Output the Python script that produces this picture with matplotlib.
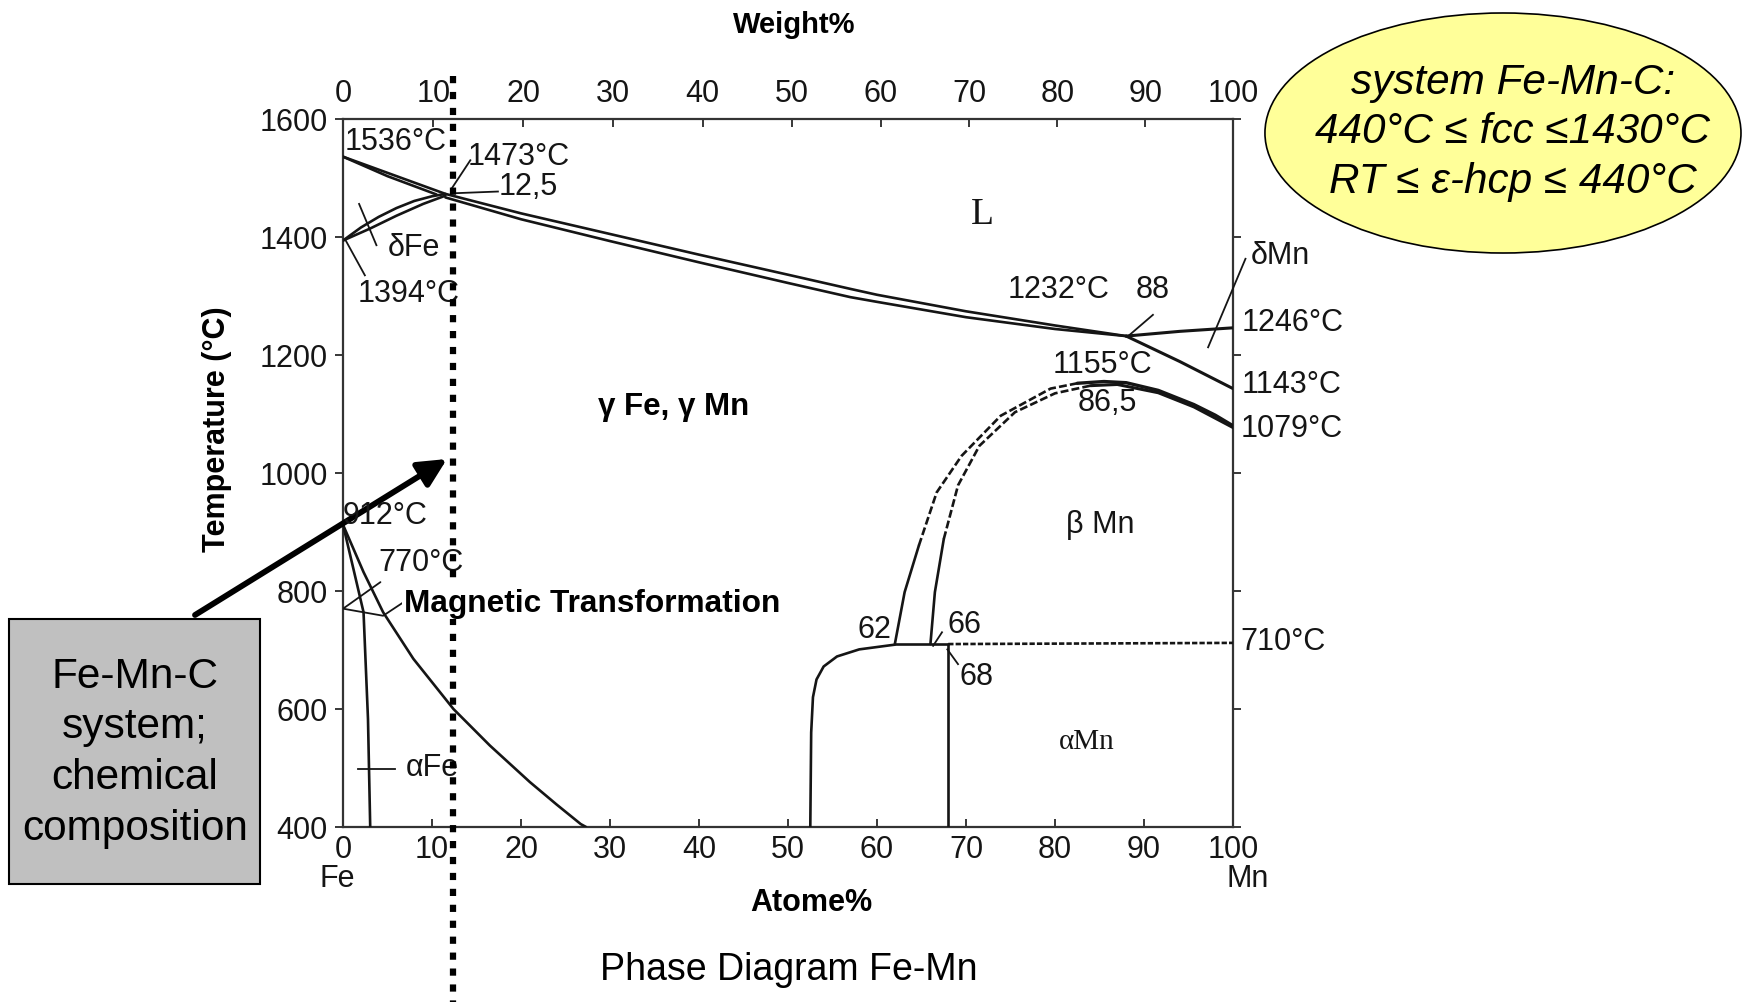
import matplotlib
matplotlib.use("Agg")
import matplotlib.pyplot as plt
from matplotlib.patches import Ellipse, Rectangle
from matplotlib.transforms import blended_transform_factory

plt.rcParams['font.family'] = ['Liberation Sans', 'DejaVu Sans']

# molar masses for the weight-% <-> atom-% scale
M_FE, M_MN = 55.845, 54.938

# ---- phase boundaries (x: atom-% Mn, y: temperature in °C) ----
liquidus_x = [0, 11.5, 20, 30, 40, 50, 57, 60, 70, 80, 88]
liquidus_T = [1536, 1473, 1440, 1405, 1370, 1336, 1312, 1302, 1274, 1250, 1232]
solidus_x = [11.5, 20, 30, 40, 50, 57, 60, 70, 80, 88]
solidus_T = [1467, 1430, 1393, 1357, 1322, 1298, 1290, 1264, 1244, 1232]
delta_solidus_x = [0, 5, 10.5]
delta_solidus_T = [1536, 1503, 1472]
delta_gamma_a_x = [0, 2, 4, 6, 8, 10, 11.5]
delta_gamma_a_T = [1394, 1416, 1434, 1449, 1461, 1469, 1473]
delta_gamma_b_x = [0, 3, 6, 9, 11.5]
delta_gamma_b_T = [1394, 1414, 1436, 1456, 1470]
mn_liquidus_x = [88, 94, 100]
mn_liquidus_T = [1232, 1240, 1246]
mn_delta_x = [88, 94, 100]
mn_delta_T = [1232, 1189, 1143]

beta_outer_low_x = [62, 63.1, 64.7]
beta_outer_low_T = [710, 798, 877]
beta_outer_dash_x = [64.7, 66.7, 69.5, 73.9, 79.5, 82.5]
beta_outer_dash_T = [877, 967, 1029, 1097, 1143, 1152]
beta_outer_top_x = [82.5, 85.5, 88, 91.6, 95.6, 98, 100]
beta_outer_top_T = [1152, 1155, 1153, 1140, 1116, 1098, 1080]
beta_inner_low_x = [66, 66.5, 67.5]
beta_inner_low_T = [710, 798, 888]
beta_inner_dash_x = [67.5, 69.1, 71.5, 75.5, 80, 84]
beta_inner_dash_T = [888, 979, 1046, 1103, 1135, 1148]
beta_inner_top_x = [84, 87, 91.6, 95.6, 100]
beta_inner_top_T = [1148, 1150, 1136, 1112, 1077]

eutectoid_solid_x = [62, 68]
eutectoid_solid_T = [710, 710]
eutectoid_dash_x = [68, 100]
eutectoid_dash_T = [710, 712]
alpha_mn_x = [62, 58, 55.5, 54, 53.2, 52.8, 52.6, 52.5]
alpha_mn_T = [709, 701, 689, 672, 650, 620, 560, 400]
mn68_x = [68, 68]
mn68_T = [710, 400]

gamma_alpha_x = [0, 2.3, 4.5, 7.9, 12.4, 16.5, 21.0, 24, 26.7, 27.3]
gamma_alpha_T = [912, 832, 764, 685, 600, 538, 476, 438, 405, 400]
alpha_fe_x = [0, 1.2, 2.3, 2.8, 3.05]
alpha_fe_T = [912, 835, 764, 583, 400]
magnetic_x = [4.2, 0.0, 4.5, 6.8]
magnetic_T = [815, 770, 758, 781]

steel_mn = 12.4  # Mn content of the steel considered

temp_ticks = [400, 600, 800, 1000, 1200, 1400, 1600]
pct_ticks = [0, 10, 20, 30, 40, 50, 60, 70, 80, 90, 100]

INK = '#151515'
LW = 1.9


def at2wt(a):
    return 100 * a * M_MN / (a * M_MN + (100 - a) * M_FE)


def wt2at(w):
    return 100 * (w / M_MN) / (w / M_MN + (100 - w) / M_FE)


fig = plt.figure(figsize=(17.45, 10.03), dpi=100)
ax = fig.add_axes([0.1966, 0.1745, 0.5100, 0.7059])
ax.set_xlim(0, 100)
ax.set_ylim(400, 1600)


def curve(x, T, ls='-', lw=LW):
    ax.plot(x, T, color=INK, lw=lw, ls=ls, solid_capstyle='round',
            solid_joinstyle='round', zorder=3)


curve(liquidus_x, liquidus_T)
curve(solidus_x, solidus_T)
curve(delta_solidus_x, delta_solidus_T)
curve(delta_gamma_a_x, delta_gamma_a_T)
curve(delta_gamma_b_x, delta_gamma_b_T)
curve(mn_liquidus_x, mn_liquidus_T, lw=2.2)
curve(mn_delta_x, mn_delta_T, lw=2.2)

curve(beta_outer_low_x, beta_outer_low_T)
curve(beta_outer_dash_x, beta_outer_dash_T, ls=(0, (3, 1.2)))
curve(beta_outer_top_x, beta_outer_top_T, lw=2.4)
curve(beta_inner_low_x, beta_inner_low_T)
curve(beta_inner_dash_x, beta_inner_dash_T, ls=(0, (3, 1.2)))
curve(beta_inner_top_x, beta_inner_top_T, lw=2.2)

curve(eutectoid_solid_x, eutectoid_solid_T)
curve(eutectoid_dash_x, eutectoid_dash_T, ls=(0, (2, 0.8)))
curve(alpha_mn_x, alpha_mn_T)
curve(mn68_x, mn68_T)

curve(gamma_alpha_x, gamma_alpha_T)
curve(alpha_fe_x, alpha_fe_T)
curve(magnetic_x, magnetic_T, lw=1.3)

# leader lines of the point labels
leaders = [
    ([14.3, 12.2], [1530, 1482]),      # 1473 °C
    ([12.3, 17.4], [1474, 1477]),      # 12,5
    ([1.8, 3.75], [1456, 1386]),       # delta Fe
    ([0.3, 2.45], [1394, 1335]),       # 1394 °C
    ([91.0, 88.3], [1268, 1233]),      # 88
    ([101.4, 97.2], [1363, 1213]),     # delta Mn
    ([67.3, 66.3], [730, 707]),        # 66
    ([67.9, 69.1], [701, 676]),        # 68
    ([1.7, 5.85], [499, 499]),         # alpha Fe
]
for lx, ly in leaders:
    ax.plot(lx, ly, color=INK, lw=1.3, zorder=3, clip_on=False)


def lab(x, T, s, ha='left', size=22, **kw):
    ax.text(x, T, s, ha=ha, va='center', fontsize=size, color=INK,
            zorder=4, clip_on=False, **kw)


lab(0.2, 1562, '1536°C')
lab(14.0, 1538, '1473°C')
lab(17.5, 1487, '12,5')
lab(5.0, 1383, 'δFe')
lab(1.6, 1305, '1394°C')
lab(0.0, 928, '912°C')
lab(4.0, 849, '770°C')
lab(7.0, 501, 'αFe')
lab(74.7, 1312, '1232°C')
lab(89.1, 1312, '88')
lab(102.0, 1369, 'δMn')
lab(101.0, 1256, '1246°C')
lab(101.0, 1150, '1143°C')
lab(100.8, 1077, '1079°C')
lab(79.7, 1184, '1155°C')
lab(82.5, 1120, '86,5')
lab(85.1, 914, 'β Mn', ha='center')
lab(57.8, 736, '62')
lab(67.9, 744, '66')
lab(69.3, 656, '68')
lab(100.8, 716, '710°C')
lab(83.6, 546, 'αMn', ha='center', size=21, family='Liberation Serif')
lab(71.8, 1439, 'L', ha='center', size=27, family='Liberation Serif')
lab(-0.6, 313, 'Fe', ha='center')
lab(101.6, 313, 'Mn', ha='center')

ax.text(37.1, 1114, 'γ Fe, γ Mn', ha='center', va='center', fontsize=22.5,
        fontweight='bold', color='black', zorder=6)
ax.text(6.8, 780, 'Magnetic Transformation', ha='left', va='center',
        fontsize=22.8, fontweight='bold', color='black', zorder=6,
        bbox=dict(boxstyle='square,pad=0.05', fc='white', ec='none'))

# axes frame and ticks
for sp in ax.spines.values():
    sp.set_linestyle((0, (2.5, 1)))
    sp.set_linewidth(1.6)
    sp.set_color('#333333')
ax.set_yticks(temp_ticks)
ax.set_xticks(pct_ticks)
ax.tick_params(axis='y', direction='out', length=6, width=1.2, labelsize=22,
               pad=5, right=True, colors=INK)
ax.tick_params(axis='x', direction='in', length=6, width=1.2, labelsize=22,
               pad=5, colors=INK)

sec = ax.secondary_xaxis('top', functions=(at2wt, wt2at))
sec.set_xticks(pct_ticks)
sec.tick_params(direction='in', length=6, width=1.2, labelsize=22, pad=8,
                colors=INK)
sec.spines['top'].set_visible(False)

# steel composition marker
trans = blended_transform_factory(ax.transData, ax.transAxes)
ax.plot([steel_mn, steel_mn], [1.06, -0.25], transform=trans, clip_on=False,
        color='black', lw=4.5, ls=(0, (1.15, 1.4)), dash_capstyle='butt',
        zorder=5)

# axis titles
fig.text(0.4549, 0.975, 'Weight%', ha='center', va='center', fontsize=21,
         fontweight='bold')
fig.text(0.4651, 0.0997, 'Atome%', ha='center', va='center', fontsize=22,
         fontweight='bold')
fig.text(0.1242, 0.5723, 'Temperature (°C)', ha='center', va='center',
         fontsize=22, fontweight='bold', rotation=90)
fig.text(0.4521, 0.033, 'Phase Diagram Fe-Mn', ha='center', va='center',
         fontsize=27)

# arrow from the composition box to the marker line
ax.annotate('', xy=(447, 1003 - 460), xycoords='figure pixels',
            xytext=(195, 1003 - 616), textcoords='figure pixels',
            annotation_clip=False,
            arrowprops=dict(arrowstyle='-|>,head_length=0.85,head_width=0.42',
                            lw=4.2, color='black', mutation_scale=20,
                            shrinkA=0, shrinkB=0))

# composition box
fig.add_artist(Rectangle((0.0051, 0.1178), 0.1441, 0.264,
                         transform=fig.transFigure, fc='#c0c0c0',
                         ec='black', lw=1.5, zorder=2))
fig.text(0.0772, 0.2494, 'Fe-Mn-C\nsystem;\nchemical\ncomposition',
         ha='center', va='center', fontsize=30.5, linespacing=1.35,
         zorder=3)

# stability-range callout
fig.add_artist(Ellipse((0.8613, 0.8664), 0.2728, 0.2393,
                       transform=fig.transFigure, fc='#ffff99', ec='black',
                       lw=1.2, zorder=2))
fig.text(0.867, 0.868,
         'system Fe-Mn-C:\n440°C ≤ fcc ≤1430°C\nRT ≤ ε-hcp ≤ 440°C',
         ha='center', va='center', fontsize=30.4, style='italic',
         linespacing=1.3, zorder=3)

fig.savefig('out.png', dpi=100)
